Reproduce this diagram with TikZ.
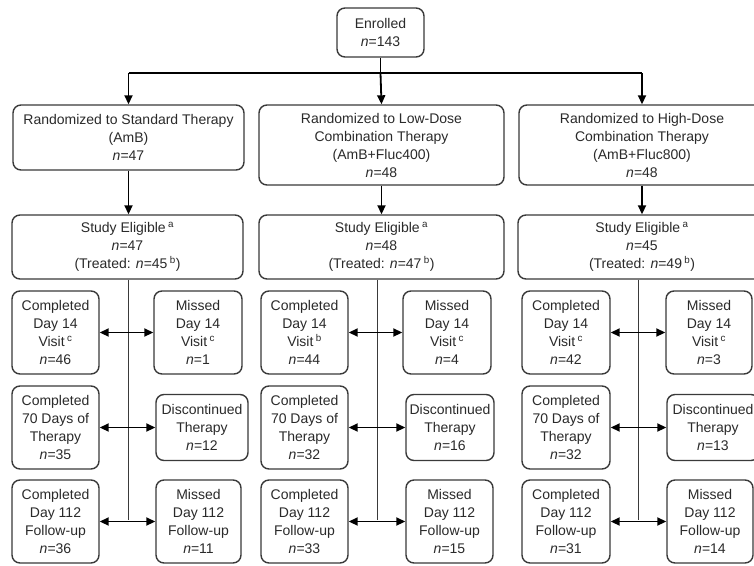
\documentclass[tikz,border=0pt]{standalone}
\usepackage{fontspec}
\setmainfont{Liberation Sans}
\usetikzlibrary{arrows.meta}
\definecolor{boxc}{HTML}{3A3A3A}
\definecolor{txtc}{HTML}{2A2A2A}
\newcommand{\nn}[1]{\textit{n}=#1}
\newcommand{\sps}[1]{\,\textsuperscript{#1}}
\begin{document}
\begin{tikzpicture}[x=1pt,y=-1pt,
  box/.style={draw=boxc, line width=1.4pt, rounded corners=8pt, align=center,
    inner sep=0pt, text=txtc, font=\fontsize{14pt}{18pt}\selectfont},
  small/.style={box, minimum width=87pt, minimum height=83pt},
  tip/.style={Triangle[length=9pt,width=8pt]},
  arr/.style={-{Triangle[length=9pt,width=8pt]}, line width=1.8pt, black},
  dbl/.style={{Triangle[length=9pt,width=8pt]}-{Triangle[length=9pt,width=8pt]}, line width=1.8pt, black},
  stem/.style={line width=1pt, boxc}]
\useasboundingbox (0,0) rectangle (754,565);
\clip (0,0) rectangle (754,565);
\fill[white] (0,0) rectangle (754,565);

% top
\node[box, minimum width=87pt, minimum height=49pt] (enr) at (380.5,32.5) {Enrolled\\\nn{143}};

\node[box, minimum width=231pt, minimum height=65pt] (r1) at (128.5,137.5)
  {Randomized to Standard Therapy\\(AmB)\\\nn{47}};
\node[box, minimum width=245pt, minimum height=80pt] (r2) at (381.5,145)
  {Randomized to Low-Dose\\Combination Therapy\\(AmB+Fluc400)\\\nn{48}};
\node[box, minimum width=246pt, minimum height=80pt] (r3) at (642,145)
  {Randomized to High-Dose\\Combination Therapy\\(AmB+Fluc800)\\\nn{48}};

\node[box, minimum width=231pt, minimum height=64pt] (e1) at (127.5,247)
  {Study Eligible\sps{a}\\\nn{47}\\(Treated: \nn{45}\sps{b})};
\node[box, minimum width=245pt, minimum height=64pt] (e2) at (381.5,247)
  {Study Eligible\sps{a}\\\nn{48}\\(Treated: \nn{47}\sps{b})};
\node[box, minimum width=248pt, minimum height=64pt] (e3) at (642,247)
  {Study Eligible\sps{a}\\\nn{45}\\(Treated: \nn{49}\sps{b})};

% row 1: day 14
\node[small] (c11) at (55.5,332.5) {Completed\\Day 14\\Visit\sps{c}\\\nn{46}};
\node[small, minimum width=88pt] (m11) at (198,332.5) {Missed\\Day 14\\Visit\sps{c}\\\nn{1}};
\node[small] (c21) at (304.5,332.5) {Completed\\Day 14\\Visit\sps{b}\\\nn{44}};
\node[small, minimum width=88pt] (m21) at (447,332.5) {Missed\\Day 14\\Visit\sps{c}\\\nn{4}};
\node[small, minimum width=88pt] (c31) at (566,332.5) {Completed\\Day 14\\Visit\sps{c}\\\nn{42}};
\node[small, minimum width=86pt] (m31) at (709,332.5) {Missed\\Day 14\\Visit\sps{c}\\\nn{3}};

% row 2: 70 days
\node[small] (c12) at (55.5,427.5) {Completed\\70 Days of\\Therapy\\\nn{35}};
\node[box, minimum width=92pt, minimum height=66pt] (d12) at (202,427.5) {Discontinued\\Therapy\\\nn{12}};
\node[small] (c22) at (304.5,427.5) {Completed\\70 Days of\\Therapy\\\nn{32}};
\node[box, minimum width=88pt, minimum height=66pt] (d22) at (450,427.5) {Discontinued\\Therapy\\\nn{16}};
\node[small, minimum width=88pt] (c32) at (566,427.5) {Completed\\70 Days of\\Therapy\\\nn{32}};
\node[box, minimum width=92pt, minimum height=66pt] (d32) at (713,427.5) {Discontinued\\Therapy\\\nn{13}};

% row 3: day 112
\node[small] (c13) at (55.5,521.5) {Completed\\Day 112\\Follow-up\\\nn{36}};
\node[small, minimum width=85pt] (m13) at (198.5,521.5) {Missed\\Day 112\\Follow-up\\\nn{11}};
\node[small] (c23) at (304.5,521.5) {Completed\\Day 112\\Follow-up\\\nn{33}};
\node[small] (m23) at (449.5,521.5) {Missed\\Day 112\\Follow-up\\\nn{15}};
\node[small, minimum width=88pt] (c33) at (566,521.5) {Completed\\Day 112\\Follow-up\\\nn{31}};
\node[small, minimum width=86pt] (m33) at (710,521.5) {Missed\\Day 112\\Follow-up\\\nn{14}};

% top connectors
\coordinate (hub) at (380.5,73);
\coordinate (hl) at (128.5,73);
\coordinate (hr) at (642,73);
\draw[line width=1.8pt] (enr.south) -- (hub);
\draw[line width=1.8pt] (hl) -- (hr);
\draw[arr] (hl) -- (r1.north);
\draw[arr] (hub) -- (r2.north);
\draw[arr] (hr) -- (r3.north);
\draw[arr] (r1.south) -- (e1.north -| r1.south);
\draw[arr] (r2.south) -- (e2.north -| r2.south);
\draw[arr] (r3.south) -- (e3.north -| r3.south);

% stems
\coordinate (s1) at (128,520);
\coordinate (s2) at (377,520);
\coordinate (s3) at (638,520);
\draw[stem] (e1.south -| s1) -- (s1);
\draw[stem] (e2.south -| s2) -- (s2);
\draw[stem] (e3.south -| s3) -- (s3);

% side arrows
\draw[dbl] (c11) -- (m11);
\draw[dbl] (c12) -- (d12);
\draw[dbl] (c13) -- (m13);
\draw[dbl] (c21) -- (m21);
\draw[dbl] (c22) -- (d22);
\draw[dbl] (c23) -- (m23);
\draw[dbl] (c31) -- (m31);
\draw[dbl] (c32) -- (d32);
\draw[dbl] (c33) -- (m33);
\end{tikzpicture}
\end{document}
